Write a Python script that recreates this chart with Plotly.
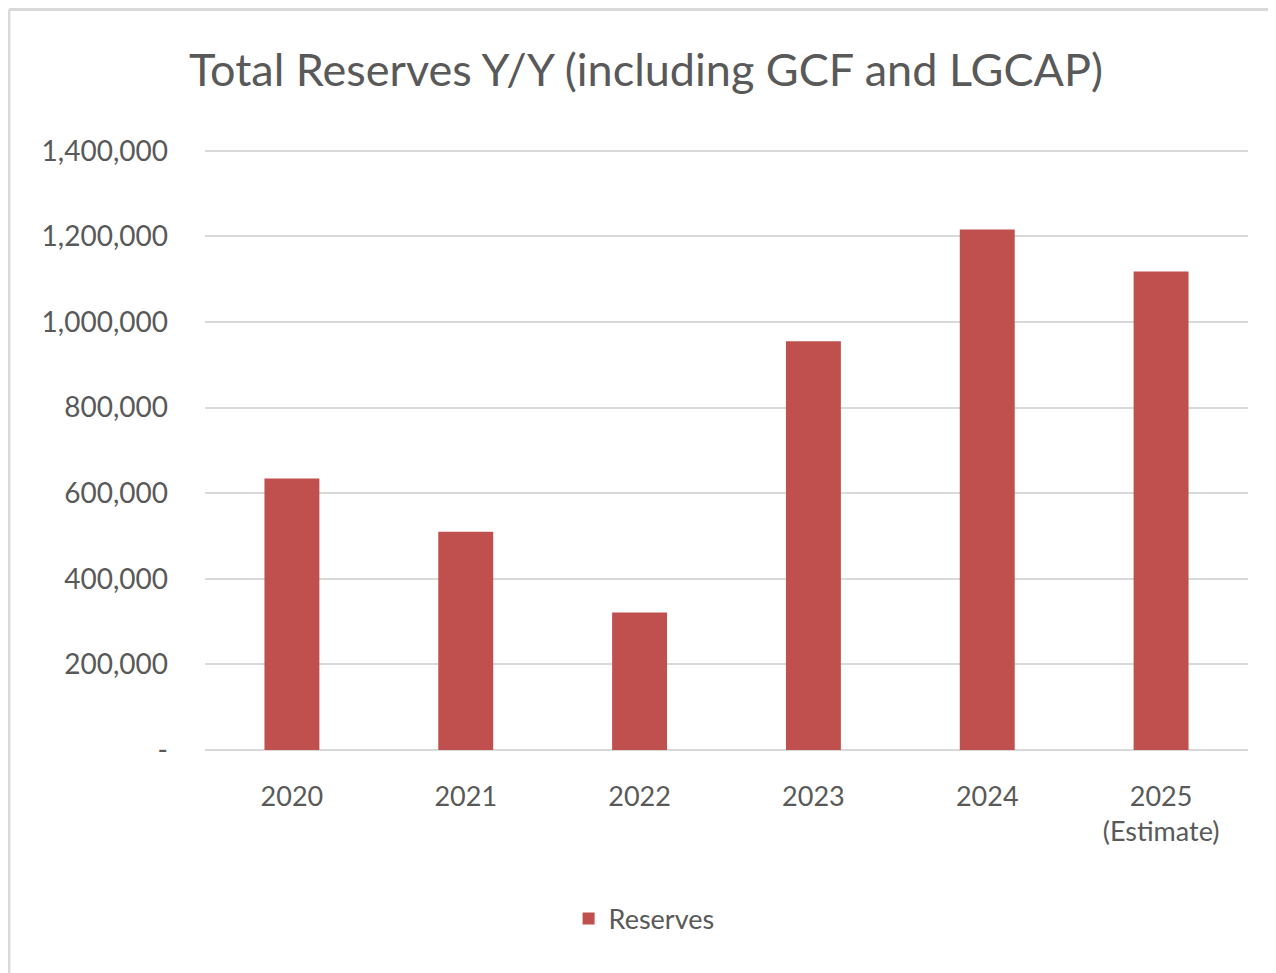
"""
Total reserves year over year bar chart
"""

import plotly.graph_objects as go

# Data
years = ["2020", "2021", "2022", "2023", "2024", "2025<br>(Estimate)"]
reserves = [634000, 510000, 321000, 955000, 1216000, 1118000]

y_tick_vals = [0, 200000, 400000, 600000, 800000, 1000000, 1200000, 1400000]
y_tick_text = ["-", "200,000", "400,000", "600,000", "800,000",
               "1,000,000", "1,200,000", "1,400,000"]

BAR_COLOR = '#c0504d'
TEXT_COLOR = '#595959'
GRID_COLOR = '#d9d9d9'
FONT = 'Lato, "Open Sans", sans-serif'

fig = go.Figure()

fig.add_trace(go.Bar(
    x=years,
    y=reserves,
    name='Reserves',
    marker=dict(color=BAR_COLOR, line=dict(width=0)),
    hovertemplate='%{x}: %{y:,}<extra></extra>'
))

# page shows the plot offset by 8px, so margins are reduced accordingly
fig.update_layout(
    width=1276,
    height=973,
    margin=dict(l=197, r=36, t=141, b=231),
    paper_bgcolor='white',
    plot_bgcolor='white',
    font=dict(family=FONT, color=TEXT_COLOR, size=27),
    title=dict(
        text="Total Reserves Y/Y (including GCF and LGCAP)",
        x=0.5, xanchor='center',
        y=0.936, yanchor='middle',
        font=dict(size=45, color=TEXT_COLOR, family=FONT)
    ),
    bargap=0.684,
    showlegend=True,
    legend=dict(
        orientation='h',
        x=0.421, xanchor='center',
        y=-0.281, yanchor='middle',
        font=dict(size=27, color=TEXT_COLOR),
    ),
    shapes=[
        # light frame around the chart area
        dict(type='line', xref='paper', yref='paper',
             x0=-0.188, x1=1.04, y0=1.232, y1=1.232,
             line=dict(color=GRID_COLOR, width=3)),
        dict(type='line', xref='paper', yref='paper',
             x0=-0.188, x1=-0.188, y0=1.232, y1=-0.4,
             line=dict(color=GRID_COLOR, width=3)),
    ]
)

fig.update_yaxes(
    range=[0, 1404000],
    tickvals=y_tick_vals,
    ticktext=y_tick_text,
    showgrid=True,
    gridcolor=GRID_COLOR,
    gridwidth=2,
    zeroline=True,
    zerolinecolor=GRID_COLOR,
    zerolinewidth=2,
    showline=False,
    ticks='',
    ticklabelstandoff=36,
    tickfont=dict(size=28, color=TEXT_COLOR)
)

fig.update_xaxes(
    showgrid=False,
    showline=False,
    ticks='',
    ticklabelstandoff=28,
    tickfont=dict(size=27, color=TEXT_COLOR)
)

fig.write_html("out.html")
